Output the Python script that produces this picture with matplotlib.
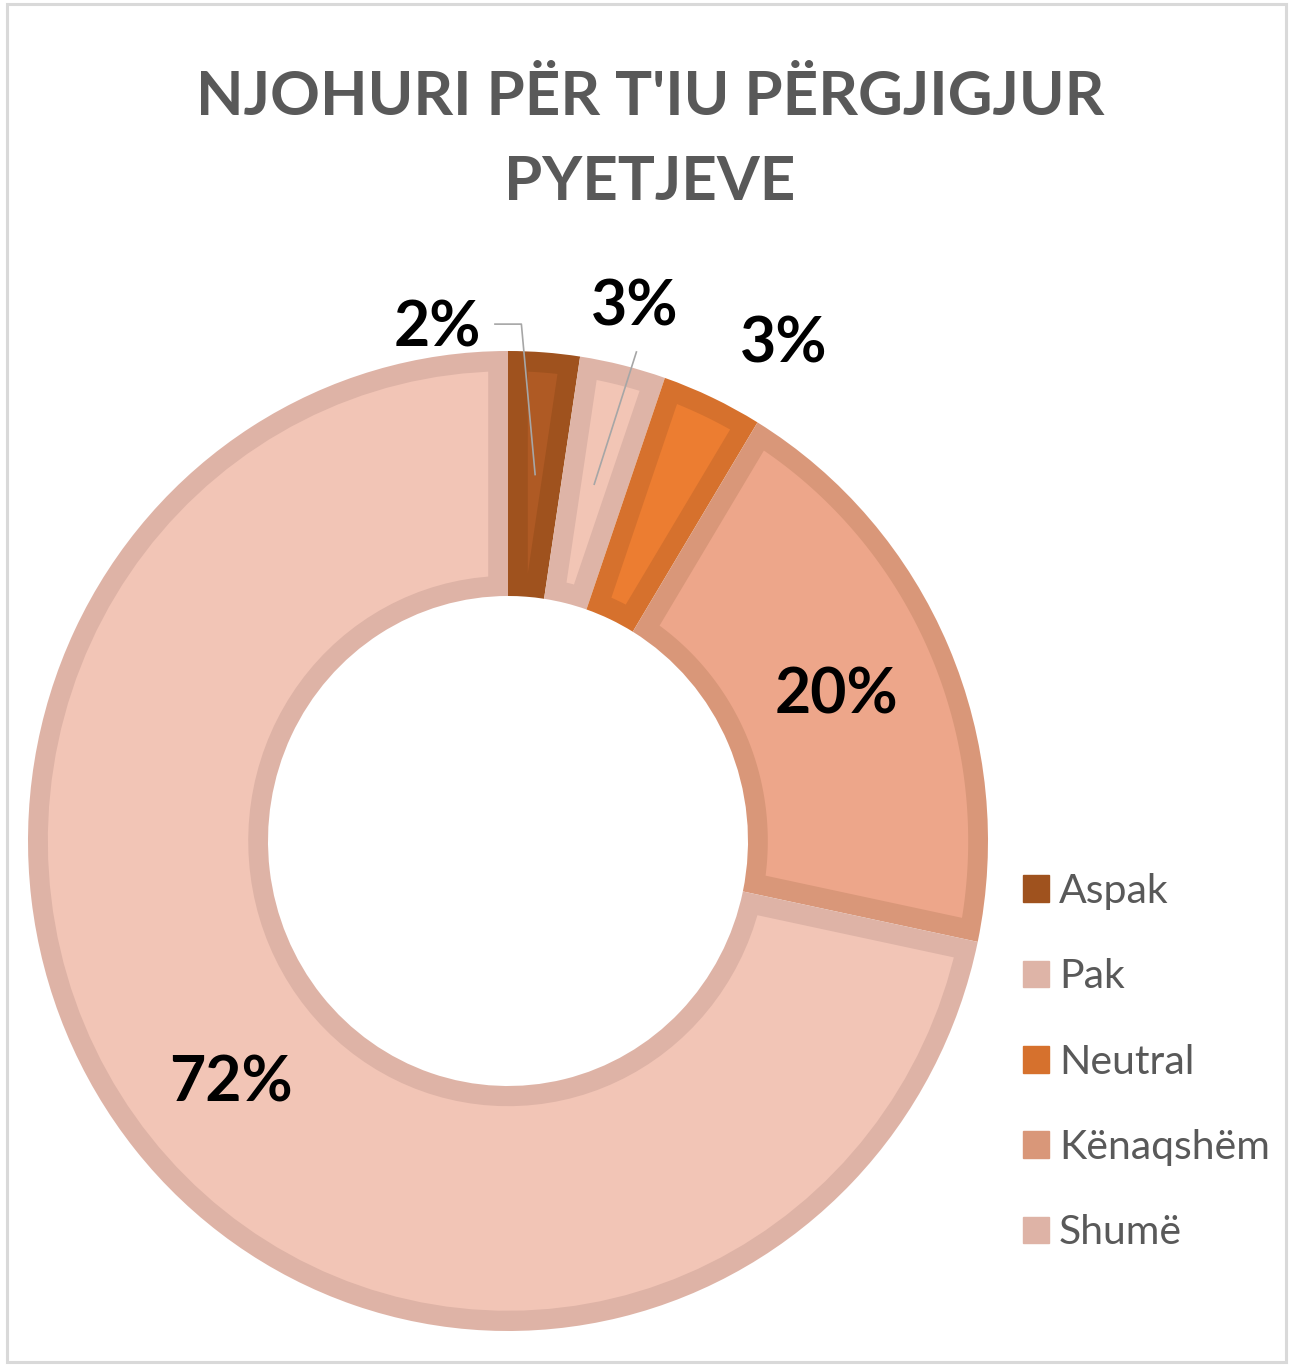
import matplotlib
matplotlib.use("Agg")
import matplotlib.pyplot as plt
from matplotlib.patches import Patch, Rectangle, Polygon
import numpy as np

# data (percent of answers)
categories = ["Aspak", "Pak", "Neutral", "Kënaqshëm", "Shumë"]
values = [2.4, 2.9, 3.4, 19.6, 71.7]
title_lines = ["NJOHURI PËR T'IU PËRGJIGJUR", "PYETJEVE"]

fill_colors = ["#AF5A24", "#F2C5B5", "#EC7D31", "#EDA68A", "#F2C5B6"]
edge_colors = ["#9F521E", "#DEB4A7", "#D6712D", "#D99779", "#DEB3A6"]

# labels Excel put outside the ring, with nudges in data units
outside = {0: (-0.23, -0.05), 1: (0.0, 0.02), 2: (0.105, 0.017)}
inside_nudge = {3: (-0.005, 0.0), 4: (0.005, -0.022)}

W, H = 1291, 1366
CX, CY, RX, RY = 508, 841, 480, 490
BORDER = 20 / 485  # inner border width, data units


def inset_sector(t1, t2, r_in, r_out, b, n=80):
    '''annular sector shrunk by b on every side (angles in degrees)'''
    t1, t2 = np.deg2rad(t1), np.deg2rad(t2)
    ro, ri = r_out - b, r_in + b
    do, di = np.arcsin(b / ro), np.arcsin(b / ri)
    a = np.linspace(t1 + do, t2 - do, n)
    pts = list(zip(ro * np.cos(a), ro * np.sin(a)))
    if t2 - t1 > 2 * di:
        a = np.linspace(t2 - di, t1 + di, n)
        pts += list(zip(ri * np.cos(a), ri * np.sin(a)))
    else:
        mid = (t1 + t2) / 2
        rap = b / np.sin((t2 - t1) / 2)
        pts.append((rap * np.cos(mid), rap * np.sin(mid)))
    return pts


def main():
    plt.rcParams['font.family'] = ['Lato', 'DejaVu Sans']
    fig = plt.figure(figsize=(W / 100, H / 100), dpi=100)
    fig.patch.set_facecolor("white")

    # chart area border
    fig.patches.append(Rectangle((7 / W, 4 / H), (W - 12) / W, (H - 8) / H,
                                 transform=fig.transFigure, fill=False,
                                 edgecolor="#D9D9D9", linewidth=2.2))

    ax = fig.add_axes([(CX - RX) / W, (H - CY - RY) / H,
                       2 * RX / W, 2 * RY / H])
    wedges, _ = ax.pie(values, startangle=90, counterclock=False,
                       colors=edge_colors, radius=1.0,
                       wedgeprops=dict(width=0.5, linewidth=0))
    ax.set_xlim(-1, 1)
    ax.set_ylim(-1, 1)
    ax.set_aspect('auto')
    ax.axis('off')

    # lighter fill inside each slice, leaving a thick border
    for w, fc in zip(wedges, fill_colors):
        pts = inset_sector(w.theta1, w.theta2, w.r - w.width, w.r, BORDER)
        ax.add_patch(Polygon(pts, closed=True, facecolor=fc,
                             edgecolor='none', zorder=1.5))

    cum = np.cumsum(values) - np.array(values) / 2
    total = sum(values)
    for i, (v, c) in enumerate(zip(values, cum)):
        ang = np.deg2rad(360 * c / total)
        mx, my = 0.75 * np.sin(ang), 0.75 * np.cos(ang)
        label = f"{round(v)}%"
        if i in outside:
            dx, dy = outside[i]
            lx, ly = 1.1 * np.sin(ang) + dx, 1.1 * np.cos(ang) + dy
            ax.text(lx, ly, label, ha='center', va='center', fontsize=45,
                    fontweight='bold', color='black', clip_on=False)
            if i == 0:
                ax.plot([lx + 0.12, lx + 0.175, mx], [ly + 0.008, ly + 0.008, my],
                        color="#A6A6A6", lw=1.2, clip_on=False, zorder=3)
            elif i == 1:
                ax.plot([lx + 0.004, mx], [ly - 0.09, my],
                        color="#A6A6A6", lw=1.2, clip_on=False, zorder=3)
        else:
            dx, dy = inside_nudge.get(i, (0, 0))
            ax.text(mx + dx, my + dy, label, ha='center', va='center',
                    fontsize=45, fontweight='bold', color='black', zorder=4)

    for line, base in zip(title_lines, [115, 200]):
        fig.text(650 / W, 1 - base / H, line, ha='center', va='baseline',
                 fontsize=44.5, fontweight='bold', color='#595959')

    handles = [Patch(facecolor=ec, edgecolor=ec) for ec in edge_colors]
    fig.legend(handles, categories, loc='upper left',
               bbox_to_anchor=(1023 / W, 1 - 873 / H), frameon=False,
               fontsize=29.5, labelcolor='#595959', handlelength=0.63,
               handleheight=0.63, handletextpad=0.25, labelspacing=1.18,
               borderaxespad=0, borderpad=0)

    fig.savefig("out.png", dpi=100, facecolor="white")


if __name__ == '__main__':
    main()
